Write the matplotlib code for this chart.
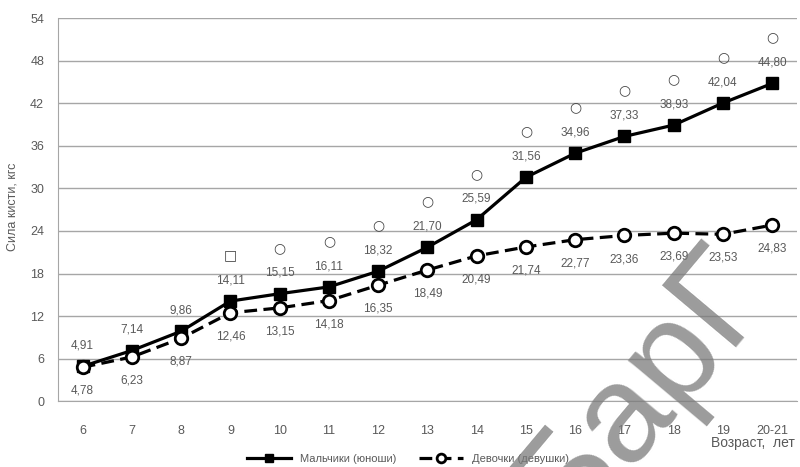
import matplotlib
matplotlib.use("Agg")
from matplotlib import pyplot as plt

plt.rcParams['font.family'] = ['Liberation Sans', 'DejaVu Sans']

ages = ["6", "7", "8", "9", "10", "11", "12", "13", "14", "15", "16", "17", "18", "19", "20-21"]
boys = [4.91, 7.14, 9.86, 14.11, 15.15, 16.11, 18.32, 21.70, 25.59, 31.56, 34.96, 37.33, 38.93, 42.04, 44.80]
girls = [4.78, 6.23, 8.87, 12.46, 13.15, 14.18, 16.35, 18.49, 20.49, 21.74, 22.77, 23.36, 23.69, 23.53, 24.83]
# significance signs drawn above the boys' labels
signs = ["", "", "", "\u25a1", "\u25cb", "\u25cb", "\u25cb", "\u25cb", "\u25cb", "\u25cb", "\u25cb", "\u25cb", "\u25cb", "\u25cb", "\u25cb"]
yticks = [0, 6, 12, 18, 24, 30, 36, 42, 48, 54]

txt = "#595959"

fig = plt.figure(figsize=(8, 4.67), dpi=100)
ax = fig.add_axes([0.0725, 0.141, 0.9235, 0.82])

x = list(range(len(ages)))
ax.plot(x, boys, color="black", lw=2.3, marker="s", ms=8, mfc="black", mec="black",
        label="Мальчики (юноши)", zorder=4)
ax.plot(x, girls, color="black", lw=2.3, ls=(0, (4, 2)), marker="o", ms=9, mfc="white",
        mec="black", mew=2, label="Девочки (девушки)", zorder=5)

for i in x:
    ax.annotate("%.2f" % boys[i], (i, boys[i]), xytext=(0, 15), textcoords="offset points",
                ha="center", va="center", fontsize=8.5, color=txt)
    ax.annotate("%.2f" % girls[i], (i, girls[i]), xytext=(0, -17), textcoords="offset points",
                ha="center", va="center", fontsize=8.5, color=txt)
    if signs[i]:
        ax.annotate(signs[i], (i, boys[i]), xytext=(0, 33), textcoords="offset points",
                    ha="center", va="center", fontsize=10, color="#444444",
                    family=["DejaVu Sans"])

# decimal commas
for t in ax.texts:
    t.set_text(t.get_text().replace(".", ","))

ax.set_xlim(-0.5, len(ages) - 0.5)
ax.set_ylim(0, 54)
ax.set_yticks(yticks)
ax.set_xticks(x)
ax.set_xticklabels(ages)
ax.tick_params(axis="both", length=0, labelsize=9, colors=txt)
ax.tick_params(axis="x", pad=17)
ax.tick_params(axis="y", pad=10)
ax.grid(axis="y", color="#a6a6a6", lw=1)
ax.set_axisbelow(True)
for s in ["top", "right"]:
    ax.spines[s].set_visible(False)
ax.spines["left"].set_color("#a6a6a6")
ax.spines["bottom"].set_color("#a6a6a6")

fig.text(0.016, 1 - 207 / 467, "Сила кисти, кгс", rotation=90, ha="center", va="center",
         fontsize=9, color=txt)
fig.text(0.993, 1 - 443 / 467, "Возраст,  лет", ha="right", va="center", fontsize=10, color=txt)

fig.legend(loc="lower center", bbox_to_anchor=(0.51, -0.015), ncol=2, frameon=False,
           fontsize=8, labelcolor=txt, handlelength=4, columnspacing=2, markerscale=0.7)

# watermark
fig.text(0.709, -0.1435, "БарГ", rotation=50, rotation_mode="anchor", fontsize=100,
         color="#7a7a7a", alpha=0.75, ha="left", va="baseline", zorder=10)

fig.savefig("out.png", dpi=100)
